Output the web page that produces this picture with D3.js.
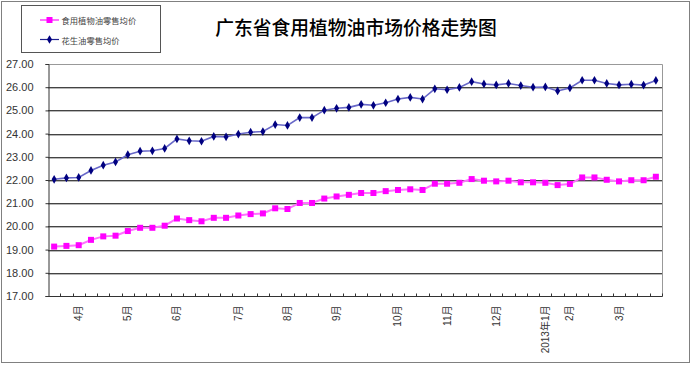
<!DOCTYPE html>
<html><head><meta charset="utf-8">
<script src="https://cdn.jsdelivr.net/npm/d3@7"></script>
<style>html,body{margin:0;padding:0;background:#fff;}svg{display:block;}</style>
</head><body>
<script>
const title = "广东省食用植物油市场价格走势图";
const seriesNames = ["食用植物油零售均价", "花生油零售均价"];
const monthLabels = {2:"4月",6:"5月",10:"6月",15:"7月",19:"8月",23:"9月",28:"10月",32:"11月",36:"12月",40:"2013年1月",42:"2月",46:"3月"};
const categories = d3.range(50).map(i => monthLabels[i] || "");
const vegOil = [19.13,19.16,19.19,19.42,19.57,19.60,19.80,19.94,19.94,20.03,
  20.34,20.27,20.22,20.37,20.37,20.47,20.53,20.56,20.78,20.75,
  21.01,21.01,21.20,21.29,21.36,21.44,21.44,21.52,21.57,21.60,
  21.57,21.84,21.84,21.88,22.04,21.97,21.94,21.97,21.90,21.90,
  21.88,21.78,21.83,22.11,22.11,22.01,21.94,21.99,21.99,22.14];
const peanutOil = [22.03,22.09,22.11,22.41,22.64,22.78,23.09,23.24,23.26,23.36,
  23.77,23.69,23.67,23.88,23.86,23.98,24.06,24.09,24.39,24.35,
  24.69,24.69,25.01,25.09,25.13,25.26,25.22,25.33,25.49,25.56,
  25.49,25.93,25.89,25.99,26.24,26.14,26.10,26.16,26.07,26.00,
  26.01,25.84,25.97,26.30,26.30,26.16,26.10,26.13,26.09,26.29];
const yTicks = [17,18,19,20,21,22,23,24,25,26,27];

const W = 692, H = 370;
const L = 48, R = 662, T = 64, B = 296;
const svg = d3.select("body").append("svg").attr("width", W).attr("height", H);

// outer dotted border
svg.append("rect").attr("x",1.5).attr("y",1.5).attr("width",688).attr("height",361)
  .attr("fill","#fff").attr("stroke","#000").attr("stroke-width",1).attr("stroke-dasharray","1,1");

const x = d3.scaleBand().domain(d3.range(categories.length)).range([L, R]);
const y = d3.scaleLinear().domain([17, 27]).range([B, T]);

// gridlines
const grid = svg.append("g");
yTicks.filter(v => v > 17 && v < 27).forEach(v => {
  grid.append("line").attr("x1",L).attr("x2",R).attr("y1",Math.round(y(v))+1.5).attr("y2",Math.round(y(v))+1.5)
    .attr("stroke","#b8b8b8").attr("stroke-width",1);
  grid.append("line").attr("x1",L).attr("x2",R).attr("y1",Math.round(y(v))+0.5).attr("y2",Math.round(y(v))+0.5)
    .attr("stroke","#444").attr("stroke-width",1);
});
// plot frame top/right
svg.append("path").attr("d",`M${L},${Math.round(y(27))+0.5}H${R+0.5}V${B}`)
  .attr("fill","none").attr("stroke","#999").attr("stroke-width",1);

// y axis
const yAxis = d3.axisLeft(y).tickValues(yTicks).tickFormat(d3.format(".2f")).tickSize(3).tickPadding(12);
const ya = svg.append("g").attr("transform",`translate(${L+0.5},0)`).call(yAxis);
ya.select(".domain").attr("stroke","#333");
ya.selectAll(".tick line").attr("stroke","#333");
ya.selectAll("text").attr("font-family","Liberation Sans, Arial, sans-serif").attr("font-size","11px").attr("fill","#333");

// x axis (ticks inside at category boundaries)
const xa = svg.append("g").attr("transform",`translate(0,${B+0.5})`);
xa.append("line").attr("x1",L).attr("x2",R+0.5).attr("stroke","#333");
d3.range(1, categories.length + 1).forEach(i => {
  const xp = Math.round(L + i * x.step()) + 0.5;
  xa.append("line").attr("x1",xp).attr("x2",xp).attr("y1",0).attr("y2",-3).attr("stroke","#333");
});
xa.selectAll("text.cat").data(categories.map((c,i)=>({c,i})).filter(d=>d.c)).enter().append("text")
  .attr("class","cat")
  .attr("transform", d => `translate(${x(d.i)+x.bandwidth()/2},9) rotate(-90)`)
  .attr("text-anchor","end").attr("dominant-baseline","central")
  .attr("font-family","Liberation Sans, 'Noto Sans CJK SC', sans-serif").attr("font-size","10px").attr("fill","#333")
  .text(d => d.c);

const cx = i => x(i) + x.bandwidth()/2;
const line = d3.line().x((d,i)=>cx(i)).y(d=>y(d));

// pink series
svg.append("path").datum(vegOil).attr("d",line).attr("fill","none").attr("stroke","#ff70ff").attr("stroke-width",2);
svg.append("g").selectAll("rect").data(vegOil).enter().append("rect")
  .attr("x",(d,i)=>cx(i)-3).attr("y",d=>y(d)-3).attr("width",6).attr("height",6).attr("fill","#ff00ff");

// blue series
svg.append("path").datum(peanutOil).attr("d",line).attr("fill","none").attr("stroke","#6868c8").attr("stroke-width",1.6);
const diamond = d3.symbol().type(d3.symbolDiamond).size(22);
svg.append("g").selectAll("path").data(peanutOil).enter().append("path")
  .attr("d",diamond).attr("transform",(d,i)=>`translate(${cx(i)},${y(d)})`).attr("fill","#000080");

// legend
const lg = svg.append("g");
lg.append("rect").attr("x",21.5).attr("y",5.5).attr("width",139).attr("height",47).attr("fill","#fff").attr("stroke","#555");
lg.append("line").attr("x1",40).attr("x2",59).attr("y1",20).attr("y2",20).attr("stroke","#ff70ff").attr("stroke-width",2);
lg.append("rect").attr("x",46.5).attr("y",17).attr("width",6).attr("height",6).attr("fill","#ff00ff");
lg.append("line").attr("x1",40).attr("x2",59).attr("y1",39.5).attr("y2",39.5).attr("stroke","#202090").attr("stroke-width",1.2);
lg.append("path").attr("d",diamond).attr("transform","translate(49.5,39.5)").attr("fill","#000080");
lg.selectAll("text").data(seriesNames).enter().append("text")
  .attr("x",61.5).attr("y",(d,i)=> i===0 ? 20 : 39.5).attr("dominant-baseline","central")
  .attr("font-family","'Noto Sans CJK SC', sans-serif").attr("font-size","8.3px").attr("fill","#444")
  .text(d=>d);

// title
svg.append("text").attr("x",356).attr("y",26.5).attr("text-anchor","middle").attr("dominant-baseline","central")
  .attr("font-family","'Noto Sans CJK SC', sans-serif").attr("font-size","18.8px").attr("font-weight","500").attr("fill","#000")
  .text(title);
</script>
</body></html>
